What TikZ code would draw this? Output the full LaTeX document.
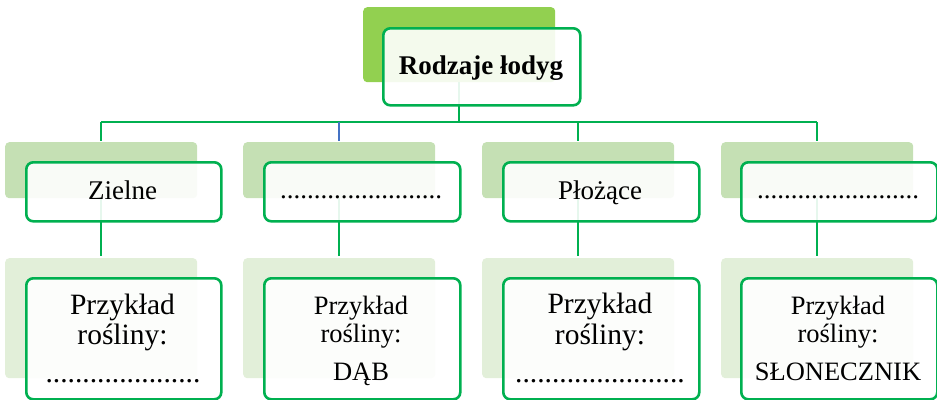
\documentclass[tikz,border=0pt]{standalone}
\usepackage{fontspec}
\setmainfont{Liberation Serif}
\definecolor{lgreen}{HTML}{00B050}
\definecolor{topbg}{HTML}{92D050}
\definecolor{midbg}{HTML}{C5E0B4}
\definecolor{lowbg}{HTML}{E2EFD9}
\definecolor{conblue}{HTML}{4472C4}
\tikzset{
  bgbox/.style={rectangle, rounded corners=4pt, draw=none, inner sep=0pt, anchor=north west},
  frontbox/.style={rectangle, draw=lgreen, line width=2.6pt, rounded corners=7pt, fill=white, fill opacity=0.9, inner sep=0pt, anchor=north west},
  conn/.style={draw=lgreen, line width=2.3pt},
  lbl/.style={anchor=base, inner sep=0pt, font=\fontsize{27}{32}\selectfont},
  lblbig/.style={anchor=base, inner sep=0pt, font=\fontsize{29.5}{34}\selectfont},
  lblsm/.style={anchor=base, inner sep=0pt, font=\fontsize{26.5}{32}\selectfont},
}
\begin{document}
\begin{tikzpicture}[x=1pt,y=-1pt]
\useasboundingbox (0,0) rectangle (937,399);
% coordinates for connectors
\coordinate (t0) at (459,82);
\coordinate (bar) at (459,122);
\coordinate (bl) at (101,122);
\coordinate (br) at (817,122);
\coordinate (d1) at (101,141);
\coordinate (d2) at (339,141);
\coordinate (d3) at (578,141);
\coordinate (d4) at (817,141);
\coordinate (b2) at (339,122);
\coordinate (b3) at (578,122);
\coordinate (u1) at (101,198);
\coordinate (u2) at (339,198);
\coordinate (u3) at (578,198);
\coordinate (u4) at (817,198);
\coordinate (l1) at (101,256);
\coordinate (l2) at (339,256);
\coordinate (l3) at (578,256);
\coordinate (l4) at (817,256);
% connectors
\draw[conn] (t0) -- (bar);
\draw[conn] (bl) -- (br);
\draw[conn] (bl) -- (d1);
\draw[draw=conblue, line width=2.3pt] (b2) -- (d2);
\draw[conn] (b3) -- (d3);
\draw[conn] (br) -- (d4);
\draw[conn] (u1) -- (l1);
\draw[conn] (u2) -- (l2);
\draw[conn] (u3) -- (l3);
\draw[conn] (u4) -- (l4);
% top
\node[bgbox, fill=topbg, minimum width=192pt, minimum height=75pt] (topbgn) at (363,7) {};
\node[frontbox, minimum width=197pt, minimum height=77pt] (topfront) at (382,27) {};
\node[lbl, font=\fontsize{27}{32}\selectfont\bfseries] (toptxt) at (481,74) {Rodzaje łodyg};
% level 2
\node[bgbox, fill=midbg, minimum width=192pt, minimum height=56pt] (m1) at (5,142) {};
\node[bgbox, fill=midbg, minimum width=192pt, minimum height=56pt] (m2) at (243,142) {};
\node[bgbox, fill=midbg, minimum width=192pt, minimum height=56pt] (m3) at (482,142) {};
\node[bgbox, fill=midbg, minimum width=192pt, minimum height=56pt] (m4) at (721,142) {};
\node[frontbox, minimum width=195pt, minimum height=59pt] (f1) at (25,161) {};
\node[frontbox, minimum width=196pt, minimum height=59pt] (f2) at (263,161) {};
\node[frontbox, minimum width=196pt, minimum height=59pt] (f3) at (502,161) {};
\node[frontbox, minimum width=196pt, minimum height=59pt] (f4) at (740,161) {};
\node[lbl] (t1) at (122.5,199) {Zielne};
\node[lbl] (t2) at (361,198) {........................};
\node[lbl] (t3) at (600,199) {Płożące};
\node[lbl] (t4) at (838,198) {........................};
% level 3
\node[bgbox, fill=lowbg, minimum width=192pt, minimum height=120pt] (n1) at (5,258) {};
\node[bgbox, fill=lowbg, minimum width=192pt, minimum height=120pt] (n2) at (243,258) {};
\node[bgbox, fill=lowbg, minimum width=192pt, minimum height=120pt] (n3) at (482,258) {};
\node[bgbox, fill=lowbg, minimum width=192pt, minimum height=120pt] (n4) at (721,258) {};
\node[frontbox, minimum width=195pt, minimum height=121pt] (g1) at (25,277) {};
\node[frontbox, minimum width=196pt, minimum height=121pt] (g2) at (263,277) {};
\node[frontbox, minimum width=196pt, minimum height=121pt] (g3) at (502,277) {};
\node[frontbox, minimum width=196pt, minimum height=121pt] (g4) at (740,277) {};
% level 3 texts
\node[lblbig] (p1a) at (122.5,314) {Przykład};
\node[lblbig] (p1b) at (122.5,344) {rośliny:};
\node[lblbig] (p1c) at (123,382) {.....................};
\node[lblsm] (p2a) at (361,314) {Przykład};
\node[lblsm] (p2b) at (361,342) {rośliny:};
\node[lblsm] (p2c) at (361,380) {DĄB};
\node[lblbig] (p3a) at (600,313) {Przykład};
\node[lblbig] (p3b) at (600,344) {rośliny:};
\node[lblbig] (p3c) at (600,382) {.......................};
\node[lblsm] (p4a) at (838,314) {Przykład};
\node[lblsm] (p4b) at (838,342) {rośliny:};
\node[lblsm] (p4c) at (838,380) {SŁONECZNIK};
\end{tikzpicture}
\end{document}
